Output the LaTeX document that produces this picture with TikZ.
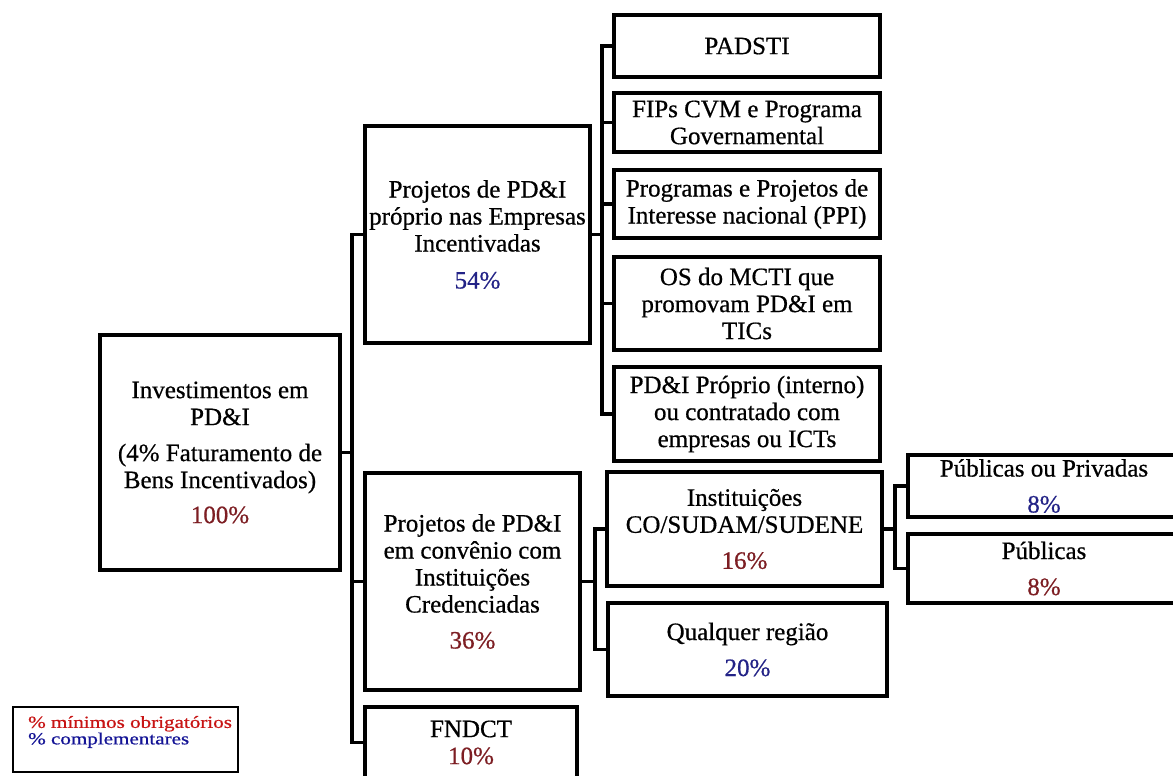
\documentclass[tikz,border=0pt]{standalone}
\usepackage{fontspec}
\setmainfont[FakeBold=0.6]{Liberation Serif}
\definecolor{pred}{RGB}{125,30,35}
\definecolor{pblue}{RGB}{35,35,135}
\definecolor{lred}{RGB}{200,20,20}
\definecolor{lblue}{RGB}{20,20,150}
\newcommand{\pr}[1]{\textcolor{pred}{#1}}
\newcommand{\pb}[1]{\textcolor{pblue}{#1}}
\tikzset{
  box/.style={draw=black, line width=4pt, fill=white, inner sep=1pt, align=center,
    font={\fontsize{25}{27}\selectfont}, line join=miter},
  conn/.style={draw=black, line width=3.5pt, line join=miter},
  legbox/.style={draw=black, line width=1.5pt, fill=white, inner sep=0pt},
}
\begin{document}
\begin{tikzpicture}[x=1pt,y=-1pt]
\useasboundingbox (0,0) rectangle (1173,776);
\clip (0,0) rectangle (1173,776);
\fill[white] (0,0) rectangle (1173,776);

% nodes
\node[box, minimum width=240, minimum height=235] (root) at (220,452.5)
  {Investimentos em\\PD\&I\\[9pt](4\% Faturamento de\\Bens Incentivados)\\[8pt]\pr{100\%}};
\node[box, minimum width=225, minimum height=217] (A) at (477.5,234.5)
  {Projetos de PD\&I\\próprio nas Empresas\\Incentivadas\\[10pt]\pb{54\%}};
\node[box, minimum width=215, minimum height=217] (B) at (472.5,581.5)
  {Projetos de PD\&I\\em convênio com\\Instituições\\Credenciadas\\[9pt]\pr{36\%}};
\node[box, minimum width=212, minimum height=71] (F) at (471,742.5)
  {FNDCT\\\pr{10\%}};

\node[box, minimum width=266, minimum height=62] (P1) at (747,46) {PADSTI};
\node[box, minimum width=266, minimum height=59] (P2) at (747,122.5) {FIPs CVM e Programa\\Governamental};
\node[box, minimum width=266, minimum height=68] (P3) at (747,204) {Programas e Projetos de\\Interesse nacional (PPI)};
\node[box, minimum width=266, minimum height=93] (P4) at (747,303.5) {OS do MCTI que\\promovam PD\&I em\\TICs};
\node[box, minimum width=266, minimum height=94] (P5) at (747,414) {PD\&I Próprio (interno)\\ou contratado com\\empresas ou ICTs};

\node[box, minimum width=275, minimum height=114] (I) at (744.5,529)
  {Instituições\\CO/SUDAM/SUDENE\\[9pt]\pr{16\%}};
\node[box, minimum width=279, minimum height=93] (Q) at (747.5,649.5)
  {Qualquer região\\[9pt]\pb{20\%}};

\node[box, minimum width=272, minimum height=62] (PP) at (1044,486)
  {Públicas ou Privadas\\[9pt]\pb{8\%}};
\node[box, minimum width=272, minimum height=69] (PU) at (1044,568.5)
  {Públicas\\[9pt]\pr{8\%}};

% connectors
\coordinate (t1) at (352,0);
\coordinate (t2) at (602,0);
\coordinate (t3) at (595,0);
\coordinate (t4) at (895,0);

\draw[conn] (A.west) -- (A.west -| t1) -- (F.west -| t1) -- (F.west);
\draw[conn] (root.east) -- (root.east -| t1);
\draw[conn] (B.west) -- (B.west -| t1);

\draw[conn] (P1.west) -- (P1.west -| t2) -- (P5.west -| t2) -- (P5.west);
\draw[conn] (P2.west) -- (P2.west -| t2);
\draw[conn] (P3.west) -- (P3.west -| t2);
\draw[conn] (P4.west) -- (P4.west -| t2);
\draw[conn] (A.east) -- (A.east -| t2);

\draw[conn] (I.west) -- (I.west -| t3) -- (Q.west -| t3) -- (Q.west);
\draw[conn] (B.east) -- (B.east -| t3);

\draw[conn] (PP.west) -- (PP.west -| t4) -- (PU.west -| t4) -- (PU.west);
\draw[conn] (I.east) -- (I.east -| t4);

% legend
\node[legbox, minimum width=225, minimum height=65] (leg) at (125.5,739.5) {};
\node[anchor=west, align=left, inner sep=0pt, font={\fontsize{17}{16.5}\selectfont}] (legt) at (28,732)
  {\scalebox{1.24}[1]{\textcolor{lred}{\% mínimos obrigatórios}}\\\scalebox{1.24}[1]{\textcolor{lblue}{\% complementares}}};
\end{tikzpicture}
\end{document}
